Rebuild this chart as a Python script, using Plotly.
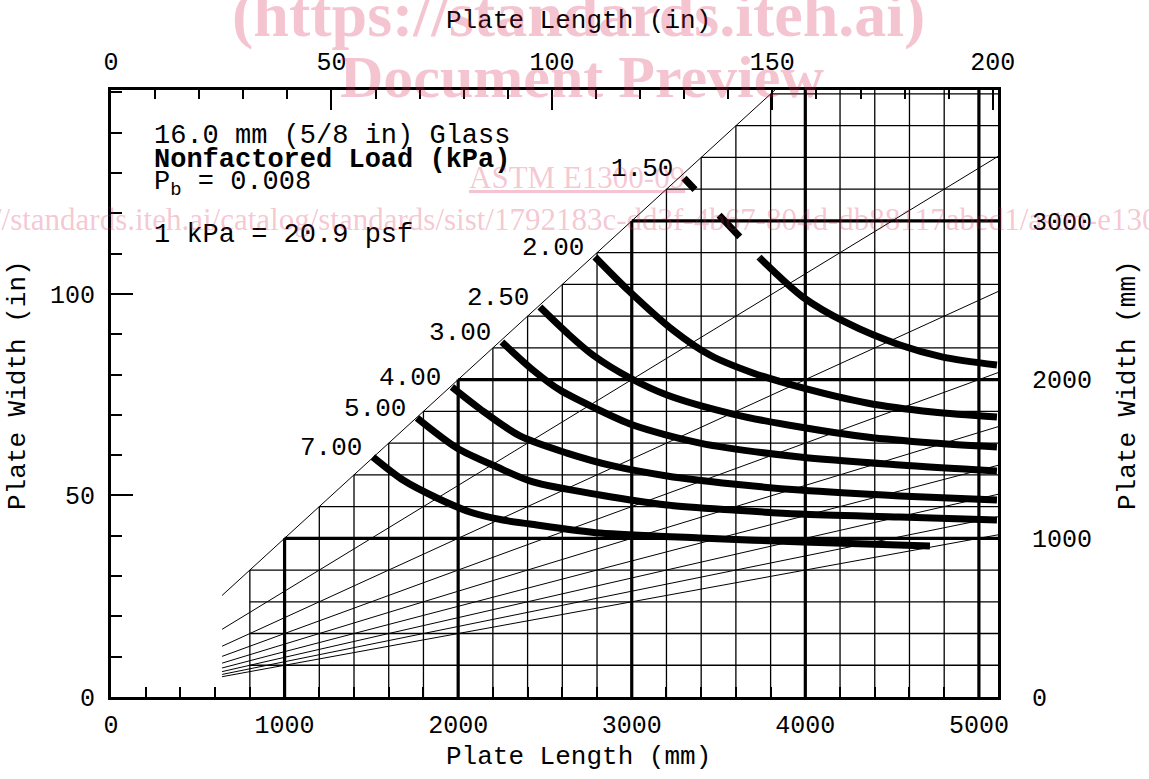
import plotly.graph_objects as go

# ---------------- data (plate length L, plate width W, both in mm) ----------------
LOAD_LABELS = ["1.50", "2.00", "2.50", "3.00", "4.00", "5.00", "7.00"]

L_150 = [3301, 3508, 3738, 3986, 4240, 4545, 4793, 5104]
W_150 = [3270, 3037, 2766, 2520, 2357, 2218, 2142, 2092]
DASHED_POINTS_150 = 3          # first points of the 1.50 curve are drawn dashed

L_200 = [2788, 2978, 3237, 3450, 3698, 3969, 4355, 4735, 5104]
W_200 = [2773, 2565, 2313, 2155, 2042, 1953, 1853, 1796, 1764]

L_250 = [2471, 2627, 2776, 2990, 3203, 3583, 3969, 4355, 4735, 5104]
W_250 = [2457, 2294, 2155, 2010, 1903, 1783, 1701, 1638, 1600, 1575]

L_300 = [2252, 2431, 2586, 2776, 3007, 3393, 3969, 4545, 5104]
W_300 = [2237, 2060, 1934, 1827, 1714, 1600, 1512, 1462, 1424]

L_400 = [1964, 2126, 2356, 2627, 2892, 3203, 3583, 3969, 4545, 5104]
W_400 = [1953, 1815, 1645, 1537, 1456, 1393, 1342, 1304, 1267, 1241]

L_500 = [1763, 1993, 2224, 2431, 2817, 3203, 3583, 3969, 4545, 5104]
W_500 = [1758, 1569, 1449, 1355, 1273, 1210, 1178, 1153, 1134, 1115]

L_700 = [1509, 1682, 1878, 2068, 2258, 2414, 2817, 3393, 3986, 4718]
W_700 = [1512, 1367, 1254, 1166, 1115, 1090, 1033, 1002, 977, 951]

CURVES = [(L_150, W_150), (L_200, W_200), (L_250, W_250), (L_300, W_300),
          (L_400, W_400), (L_500, W_500), (L_700, W_700)]

ASPECT_RATIOS = [1.0, 1.5, 2.0, 2.5, 3.0, 3.5, 4.0, 4.5, 5.0]
RAY_START_MM = 640
GRID_L_MM = list(range(800, 5001, 200))
GRID_W_MM = list(range(200, 3801, 200))
GRID_MIN_L_MM = 800

X_TICKS_MM = [0, 1000, 2000, 3000, 4000, 5000]
X_TICKS_IN = [0, 50, 100, 150, 200]
Y_TICKS_MM = [0, 1000, 2000, 3000]
Y_TICKS_IN = [0, 50, 100]

X_MAX_MM = 5110
Y_MAX_MM = 3825
MM_PER_IN = 25.4

INFO_LINES = ["16.0 mm (5/8 in) Glass", "<b>Nonfactored Load (kPa)</b>",
              "P<sub>b</sub> = 0.008", "1 kPa = 20.9 psf"]

# ---------------- layout helpers ----------------
FIG_W, FIG_H = 1149, 779
PL, PR, PT, PB = 111, 998, 90, 697
MONO = "Liberation Mono"
SERIF = "Liberation Serif"
WM = "rgba(215,40,85,0.27)"


def px_x(px):
    return (px - PL) / (PR - PL)


def px_y(py):
    return (PB - py) / (PB - PT)


def segs(pairs):
    xs, ys = [], []
    for (x0, y0), (x1, y1) in pairs:
        xs += [x0, x1, None]
        ys += [y0, y1, None]
    return xs, ys


fig = go.Figure()

# thin grid
thin = [((L, 0), (L, min(L, Y_MAX_MM))) for L in GRID_L_MM if L % 1000]
thin += [((max(W, GRID_MIN_L_MM), W), (X_MAX_MM, W)) for W in GRID_W_MM if W % 1000]
x, y = segs(thin)
fig.add_trace(go.Scatter(x=x, y=y, mode="lines", line=dict(color="black", width=1.3),
                         hoverinfo="skip"))

# constant aspect ratio rays
rays = []
for ar in ASPECT_RATIOS:
    Lend = min(X_MAX_MM, Y_MAX_MM * ar)
    rays.append(((RAY_START_MM, RAY_START_MM / ar), (Lend, Lend / ar)))
x, y = segs(rays)
fig.add_trace(go.Scatter(x=x, y=y, mode="lines", line=dict(color="black", width=1.0),
                         hoverinfo="skip"))

# thick grid
thick = [((L, 0), (L, min(L, Y_MAX_MM))) for L in GRID_L_MM if L % 1000 == 0]
thick += [((max(W, GRID_MIN_L_MM), W), (X_MAX_MM, W)) for W in GRID_W_MM if W % 1000 == 0]
x, y = segs(thick)
fig.add_trace(go.Scatter(x=x, y=y, mode="lines", line=dict(color="black", width=3.2),
                         hoverinfo="skip"))

# load curves
for i, (Ls, Ws) in enumerate(CURVES):
    if i == 0:
        n = DASHED_POINTS_150
        fig.add_trace(go.Scatter(x=Ls[:n], y=Ws[:n], mode="lines",
                                 line=dict(color="black", width=7, dash="16px,35px,30px,28px"),
                                 hoverinfo="skip"))
        fig.add_trace(go.Scatter(x=Ls[n - 1:], y=Ws[n - 1:], mode="lines",
                                 line=dict(color="black", width=7, shape="spline", smoothing=0.8),
                                 hoverinfo="skip"))
    else:
        fig.add_trace(go.Scatter(x=Ls, y=Ws, mode="lines",
                                 line=dict(color="black", width=7, shape="spline", smoothing=0.8),
                                 hoverinfo="skip"))
    fig.add_annotation(x=Ls[0], y=Ws[0], xref="x", yref="y", text=LOAD_LABELS[i],
                       showarrow=False, xanchor="right", yanchor="middle",
                       xshift=-9, yshift=9, font=dict(family=MONO, size=26, color="black"))

# dummy trace to activate inch axes
fig.add_trace(go.Scatter(x=[0], y=[0], xaxis="x2", yaxis="y2", mode="markers",
                         marker=dict(opacity=0, size=1), hoverinfo="skip"))

tickfont = dict(family=MONO, size=25, color="black")
common = dict(showgrid=False, zeroline=False, showline=True, linewidth=3, linecolor="black",
              tickcolor="black", tickfont=tickfont, fixedrange=True, tickmode="array")

fig.update_layout(
    width=FIG_W, height=FIG_H, autosize=False,
    margin=dict(l=PL, r=FIG_W - PR, t=PT, b=FIG_H - PB),
    paper_bgcolor="white", plot_bgcolor="white", showlegend=False,
    xaxis=dict(range=[0, X_MAX_MM], tickvals=X_TICKS_MM, ticktext=[str(v) for v in X_TICKS_MM],
               ticks="inside", ticklen=18, tickwidth=2, ticklabelstandoff=3,
               minor=dict(tick0=0, dtick=200, ticks="inside", ticklen=10, tickwidth=2,
                          tickcolor="black", showgrid=False), **common),
    xaxis2=dict(range=[0, X_MAX_MM / MM_PER_IN], overlaying="x", side="top", anchor="y",
                tickvals=X_TICKS_IN, ticktext=[str(v) for v in X_TICKS_IN],
                ticks="inside", ticklen=20, tickwidth=2, ticklabelstandoff=7,
                minor=dict(tick0=0, dtick=10, ticks="inside", ticklen=9, tickwidth=2,
                           tickcolor="black", showgrid=False), **common),
    yaxis=dict(range=[0, Y_MAX_MM], side="right", tickvals=Y_TICKS_MM,
               ticktext=[str(v) for v in Y_TICKS_MM], ticks="", ticklabelstandoff=26, **common),
    yaxis2=dict(range=[0, Y_MAX_MM / MM_PER_IN], overlaying="y", side="left", anchor="x",
                tickvals=Y_TICKS_IN, ticktext=[str(v) for v in Y_TICKS_IN],
                ticks="inside", ticklen=22, tickwidth=2, ticklabelstandoff=8,
                minor=dict(tick0=0, dtick=10, ticks="inside", ticklen=11, tickwidth=2,
                           tickcolor="black", showgrid=False), **common),
)

# axis titles
tf = dict(family=MONO, size=26, color="black")
titles = [("Plate Length (in)", 578, 21, 0), ("Plate Length (mm)", 578, 757, 0),
          ("Plate Width (in)", 18, 385, -90), ("Plate Width (mm)", 1128, 385, -90)]
for txt, cx, cy, ang in titles:
    fig.add_annotation(x=px_x(cx), y=px_y(cy), xref="paper", yref="paper", text=txt,
                       showarrow=False, textangle=ang, xanchor="center", yanchor="middle",
                       font=tf)

# info block
info_centres = [136, 160, 184, 235]
for txt, cy in zip(INFO_LINES, info_centres):
    fig.add_annotation(x=px_x(152), y=px_y(cy), xref="paper", yref="paper", text=txt,
                       showarrow=False, xanchor="left", yanchor="middle",
                       font=dict(family=MONO, size=27, color="black"))

# watermark
wm = [("<b>(https://standards.iteh.ai)</b>", 578, 15, 64),
      ("<b>Document Preview</b>", 582, 77, 60),
      ("<u>ASTM E1300-09</u>", 577, 177, 31),
      ("https://standards.iteh.ai/catalog/standards/sist/1792183c-dd3f-4b67-804d-db88117abed1/astm-e1300-09",
       569, 219, 31)]
for txt, cx, cy, sz in wm:
    fig.add_annotation(x=px_x(cx), y=px_y(cy), xref="paper", yref="paper", text=txt,
                       showarrow=False, xanchor="center", yanchor="middle",
                       font=dict(family=SERIF, size=sz, color=WM))

fig.write_html("out.html")
